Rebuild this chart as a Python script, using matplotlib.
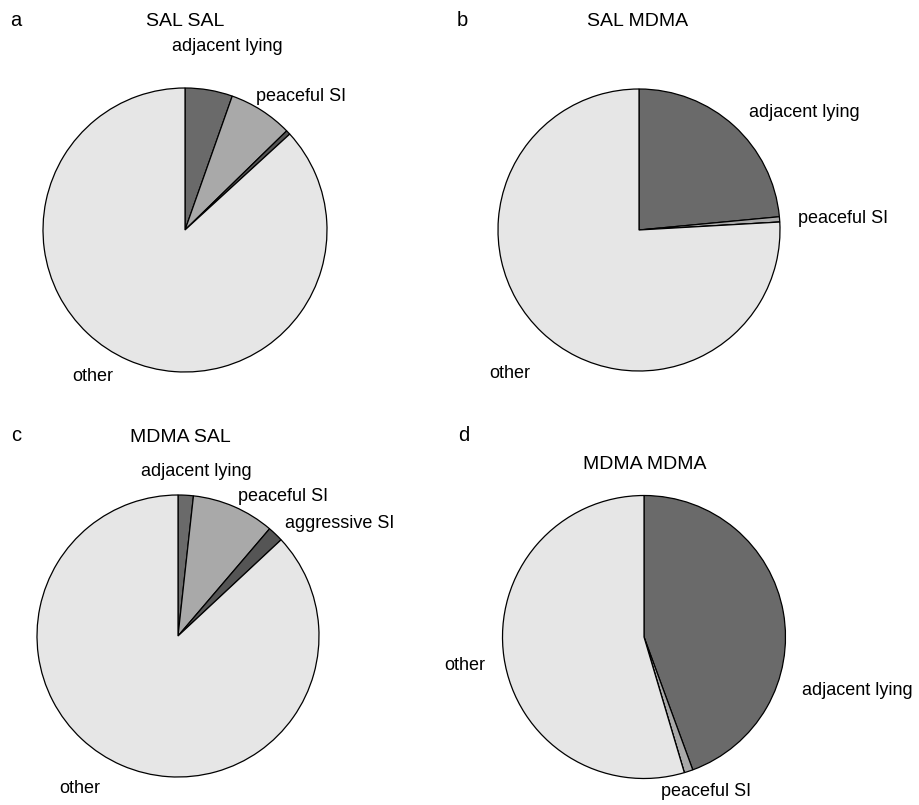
import matplotlib
matplotlib.use("Agg")
import matplotlib.pyplot as plt

plt.rcParams['font.family'] = ['Liberation Sans', 'DejaVu Sans']

categories = ["adjacent lying", "peaceful SI", "aggressive SI", "other"]
titles = ["SAL SAL", "SAL MDMA", "MDMA SAL", "MDMA MDMA"]
panel_letters = ["a", "b", "c", "d"]
sal_sal = [5.4, 7.3, 0.5, 86.8]
sal_mdma = [23.5, 0.6, 0.0, 75.9]
mdma_sal = [1.75, 9.5, 1.8, 86.95]
mdma_mdma = [44.4, 1.0, 0.0, 54.6]
colors = ["#6a6a6a", "#a9a9a9", "#555555", "#e6e6e6"]

W, H = 919, 805
fig = plt.figure(figsize=(W / 100, H / 100), dpi=100)

panels = [
    dict(vals=sal_sal, c=(185, 230), r=142, title=(185, 22), letter=(16, 20),
         labels={"adjacent lying": (0.30, 1.29), "peaceful SI": (0.82, 0.94), "other": (-0.65, -1.03)}),
    dict(vals=sal_mdma, c=(639, 230), r=141, title=(638, 22), letter=(462, 20),
         labels={"adjacent lying": (1.17, 0.83), "peaceful SI": (1.45, 0.085), "other": (-0.915, -1.02)}),
    dict(vals=mdma_sal, c=(178, 636), r=141, title=(180, 437), letter=(16, 435),
         labels={"adjacent lying": (0.13, 1.17), "peaceful SI": (0.745, 0.99),
                 "aggressive SI": (1.15, 0.80), "other": (-0.695, -1.085)}),
    dict(vals=mdma_mdma, c=(644, 637), r=141.5, title=(645, 464), letter=(464, 435),
         labels={"adjacent lying": (1.505, -0.375), "peaceful SI": (0.44, -1.095), "other": (-1.27, -0.2)}),
]

for i, p in enumerate(panels):
    cx, cy = p["c"]
    r = p["r"]
    ax = fig.add_axes([(cx - r) / W, 1 - (cy + r) / H, 2 * r / W, 2 * r / H])
    ax.pie(p["vals"], colors=colors, startangle=90, counterclock=False,
           wedgeprops=dict(edgecolor="black", linewidth=0.9), radius=1.0)
    ax.set_xlim(-1.0, 1.0)
    ax.set_ylim(-1.0, 1.0)
    ax.set_aspect("equal")
    ax.axis("off")
    for name, (dx, dy) in p["labels"].items():
        ax.text(dx, dy, name, ha="center", va="center", fontsize=13, clip_on=False)
    tx, ty = p["title"]
    fig.text(tx / W, 1 - ty / H, titles[i], ha="center", va="center", fontsize=14)
    lx, ly = p["letter"]
    fig.text(lx / W, 1 - ly / H, panel_letters[i], ha="center", va="center", fontsize=14.5)

fig.savefig("out.png", dpi=100, facecolor="white")
